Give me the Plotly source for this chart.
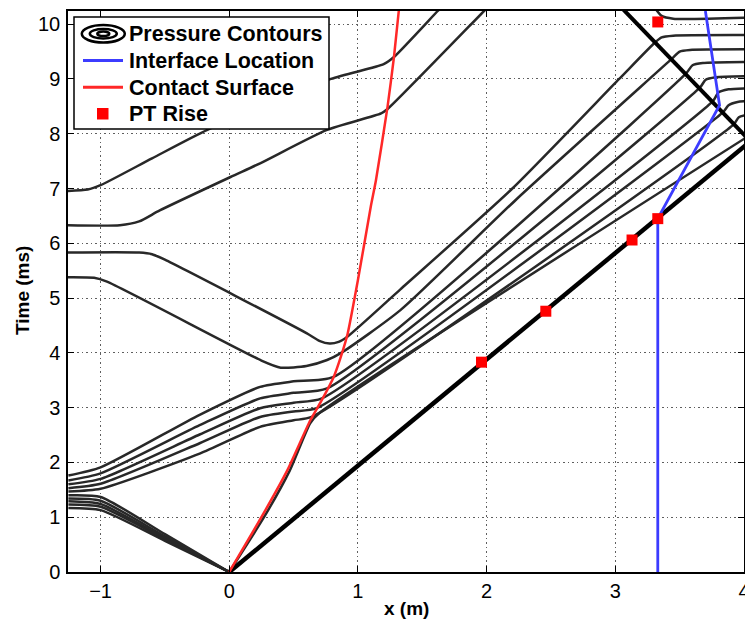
import plotly.graph_objects as go

# ---- x-t wave diagram data: x in metres, t in milliseconds ----

# contact surface
contact_x = [0.0, 0.25, 0.45, 0.63, 0.72, 0.81, 0.87, 0.92, 1.0, 1.10, 1.14, 1.23, 1.28, 1.32]
contact_t = [0.0, 1.0, 1.85, 2.77, 3.14, 3.55, 3.95, 4.35, 5.33, 6.67, 7.15, 8.49, 9.4, 10.3]

# interface location
interface_x = [3.33, 3.33, 3.81, 3.70]
interface_t = [0.0, 6.45, 8.52, 10.24]

# pressure transducer rise times
pt_x = [1.96, 2.46, 3.13, 3.33, 3.33]
pt_t = [3.83, 4.76, 6.06, 6.45, 10.04]

# incident and reflected shock
incident_x = [0.0, 4.05]
incident_t = [0.0, 7.86]
reflected_x = [4.05, 2.95]
reflected_t = [7.86, 10.54]

# pressure contours: upper-left family from the end wall
c1_x = [-1.3, -1.1, -1.0, -0.6, -0.17, 0.79, 1.2, 1.28, 1.62, 1.65]
c1_t = [6.95, 6.98, 7.06, 7.55, 8.07, 9.0, 9.27, 9.4, 10.24, 10.31]
c2_x = [-1.3, -0.85, -0.7, -0.54, 0.01, 0.24, 0.76, 1.18, 1.23, 1.98, 2.01]
c2_t = [6.33, 6.33, 6.4, 6.6, 7.21, 7.46, 8.07, 8.37, 8.45, 10.24, 10.31]
c3_x = [-1.3, -0.7, -0.6, -0.5, 0.6, 0.7, 0.78, 0.85, 0.92, 1.33, 2.2, 3.03, 3.31, 3.36, 3.45, 4.05]
c3_t = [5.83, 5.83, 5.8, 5.7, 4.36, 4.22, 4.17, 4.2, 4.3, 5.16, 7.0, 9.0, 9.67, 9.76, 9.79, 9.8]
c4_x = [-1.3, -1.05, -0.95, 0.25, 0.4, 0.6, 0.76, 0.87, 1.33, 2.23, 3.44, 3.5, 3.58, 4.05]
c4_t = [5.38, 5.37, 5.3, 3.86, 3.73, 3.76, 3.87, 4.0, 4.78, 6.8, 9.37, 9.5, 9.53, 9.54]

# reflected expansion leaving the end wall
u1_x = [-1.25, -1.0, -0.23, 0.24, 0.5, 0.81, 3.55, 3.6, 3.68, 4.05]
u1_t = [1.76, 1.91, 2.87, 3.38, 3.48, 3.56, 9.1, 9.25, 9.29, 9.31]
u2_x = [-1.25, -1.0, -0.23, 0.24, 0.5, 0.76, 3.66, 3.7, 3.78, 4.05]
u2_t = [1.67, 1.80, 2.68, 3.17, 3.27, 3.35, 8.85, 8.98, 9.03, 9.05]
u3_x = [-1.25, -1.0, -0.23, 0.24, 0.5, 0.72, 3.76, 3.8, 3.88, 4.05]
u3_t = [1.60, 1.70, 2.51, 2.99, 3.09, 3.17, 8.6, 8.75, 8.81, 8.83]
u4_x = [-1.25, -1.0, -0.23, 0.24, 0.5, 0.68, 3.84, 3.88, 3.95, 4.05]
u4_t = [1.53, 1.61, 2.35, 2.83, 2.93, 2.99, 8.4, 8.52, 8.58, 8.6]
u5_x = [-1.25, -1.0, -0.23, 0.24, 0.5, 0.64, 3.92, 3.96, 4.05]
u5_t = [1.47, 1.52, 2.16, 2.65, 2.77, 2.83, 8.17, 8.3, 8.36]

# expansion fan from the diaphragm towards the end wall
fan_x = [0.0, -0.5, -1.0, -1.25]
l1_t = [0.0, 0.57, 1.13, 1.17]
l2_t = [0.0, 0.60, 1.19, 1.23]
l3_t = [0.0, 0.62, 1.24, 1.29]
l4_t = [0.0, 0.65, 1.30, 1.34]
l5_t = [0.0, 0.69, 1.37, 1.40]

# contour hugging the contact surface
n_x = [0.0, 0.27, 0.47, 0.63, 0.7, 4.05]
n_t = [0.0, 1.0, 1.85, 2.72, 2.9, 7.98]

# contour behind the reflected shock near the top
h1_x = [3.30, 3.36, 3.45, 4.05]
h1_t = [10.32, 10.15, 10.1, 10.12]

x_ticks = [-1, 0, 1, 2, 3, 4]
t_ticks = list(range(0, 11))

# ---- figure ----
W, H = 745, 626
ML, MR, MT, MB = 68, 1, 11, 54
PW, PH = W - ML - MR, H - MT - MB
FONT = "Liberation Sans, Arial, Helvetica, sans-serif"


def px(xp):
    return (xp - ML) / PW


def py(yp):
    return (H - MB - yp) / PH


fig = go.Figure()

contour_line = dict(color="rgb(40,40,40)", width=2.5, shape="spline", smoothing=0.6)


def add_line(x, t, line):
    fig.add_trace(go.Scatter(x=x, y=t, mode="lines", line=line,
                             hoverinfo="skip", showlegend=False))


for cx, ct in [(c1_x, c1_t), (c2_x, c2_t), (c3_x, c3_t), (c4_x, c4_t),
               (u1_x, u1_t), (u2_x, u2_t), (u3_x, u3_t), (u4_x, u4_t), (u5_x, u5_t),
               (fan_x, l1_t), (fan_x, l2_t), (fan_x, l3_t), (fan_x, l4_t), (fan_x, l5_t),
               (n_x, n_t), (h1_x, h1_t)]:
    add_line(cx, ct, contour_line)

add_line(incident_x, incident_t, dict(color="black", width=4.5))
add_line(reflected_x, reflected_t, dict(color="black", width=4))
add_line(interface_x, interface_t, dict(color="rgb(60,60,255)", width=2.8))
add_line(contact_x, contact_t, dict(color="rgb(255,40,40)", width=2.5,
                                    shape="spline", smoothing=0.5))

fig.add_trace(go.Scatter(x=pt_x, y=pt_t, mode="markers",
                         marker=dict(symbol="square", size=11, color="rgb(255,0,0)",
                                     line=dict(width=0)),
                         hoverinfo="skip", showlegend=False))

axis_common = dict(
    showline=True, linecolor="black", linewidth=1.5, mirror="ticks",
    ticks="inside", ticklen=6, tickcolor="black", tickwidth=1,
    showgrid=True, gridcolor="rgb(95,95,95)", griddash="1.5px,3px", gridwidth=1,
    zeroline=False, tickfont=dict(family=FONT, size=20, color="black"),
    ticklabeloverflow="allow", automargin=False,
)

fig.update_xaxes(range=[-1.253, 4.0], tickvals=x_ticks, ticklabelstandoff=0, **axis_common)
fig.update_yaxes(range=[0, 10.24], tickvals=t_ticks, ticklabelstandoff=2, **axis_common)

# legend box drawn in pixel layout
shapes = [
    dict(type="rect", xref="paper", yref="paper", x0=px(74), x1=px(329), y0=py(129), y1=py(17),
         line=dict(color="black", width=1.5), fillcolor="white", layer="above"),
]
for w, h in [(43, 17.5), (27, 9.5), (12, 4.5)]:
    shapes.append(dict(type="circle", xref="paper", yref="paper",
                       x0=px(103.3 - w / 2), x1=px(103.3 + w / 2),
                       y0=py(33.8 + h / 2), y1=py(33.8 - h / 2),
                       line=dict(color="black", width=2.5), layer="above"))
shapes.append(dict(type="line", xref="paper", yref="paper", x0=px(83), x1=px(123), y0=py(60.5), y1=py(60.5),
                   line=dict(color="rgb(60,60,255)", width=3), layer="above"))
shapes.append(dict(type="line", xref="paper", yref="paper", x0=px(83), x1=px(123), y0=py(87.3), y1=py(87.3),
                   line=dict(color="rgb(255,40,40)", width=3), layer="above"))
shapes.append(dict(type="rect", xref="paper", yref="paper", x0=px(97), x1=px(108.5), y0=py(119.5), y1=py(108),
                   fillcolor="rgb(255,0,0)", line=dict(width=0), layer="above"))

annotations = []
for label, yc in [("Pressure Contours", 33.5), ("Interface Location", 60.5),
                  ("Contact Surface", 87.5), ("PT Rise", 114)]:
    annotations.append(dict(text="<b>%s</b>" % label, xref="paper", yref="paper",
                            x=px(127), y=py(yc), xanchor="left", yanchor="middle",
                            showarrow=False, font=dict(family=FONT, size=21.5, color="black")))

annotations.append(dict(text="<b>x (m)</b>", xref="paper", yref="paper", x=px(407), y=py(608),
                        xanchor="center", yanchor="middle", showarrow=False,
                        font=dict(family=FONT, size=19, color="black")))
annotations.append(dict(text="<b>Time (ms)</b>", xref="paper", yref="paper", x=px(22), y=py(291),
                        xanchor="center", yanchor="middle", textangle=-90, showarrow=False,
                        font=dict(family=FONT, size=19, color="black")))

fig.update_layout(
    width=W, height=H,
    margin=dict(l=ML, r=MR, t=MT, b=MB, autoexpand=False),
    paper_bgcolor="white", plot_bgcolor="white",
    shapes=shapes, annotations=annotations,
    showlegend=False,
)

fig.write_html("out.html")
